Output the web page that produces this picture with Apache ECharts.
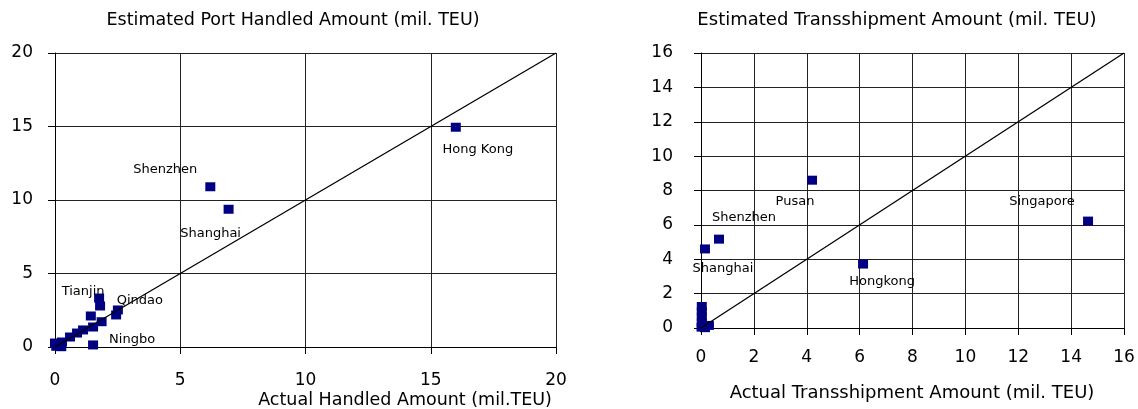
<!DOCTYPE html>
<html>
<head>
<meta charset="utf-8">
<script src="https://cdn.jsdelivr.net/npm/echarts@6/dist/echarts.min.js"></script>
<style>
html,body{margin:0;padding:0;background:#fff;}
#c{width:1138px;height:409px;}
</style>
</head>
<body>
<div id="c"></div>
<script>
// ---- Data: left chart (port handled amount, mil. TEU)
const portNames     = ['Hong Kong','Shenzhen','Shanghai','Tianjin','', 'Qindao','', 'Ningbo','', '', '', '', '', '', '', '', '', ''];
const portActual    = [16.0, 6.2, 6.93, 1.76, 1.80, 2.51, 2.44, 1.52, 1.43, 1.86, 1.52, 1.12, 0.88, 0.60, 0.28, 0.0, 0.05, 0.25];
const portEstimated = [14.95, 10.9, 9.37, 3.33, 2.79, 2.52, 2.18, 0.14, 2.11, 1.72, 1.36, 1.16, 0.95, 0.68, 0.34, 0.27, 0.05, 0.02];

// ---- Data: right chart (transshipment amount, mil. TEU)
const tsNames     = ['Singapore','Pusan','Hongkong','Shenzhen','Shanghai', '', '', '', '', '', '', ''];
const tsActual    = [14.64, 4.2, 6.13, 0.68, 0.15, 0.03, 0.03, 0.03, 0.03, 0.02, 0.3, 0.15];
const tsEstimated = [6.22, 8.6, 3.72, 5.17, 4.6, 1.25, 0.95, 0.65, 0.35, 0.05, 0.15, 0.02];

// ---- Axis ticks
const portTicks = [0, 5, 10, 15, 20];
const tsTicks   = [0, 2, 4, 6, 8, 10, 12, 14, 16];

// ---- Label placement (style only)
const labelOffsets = {
  'Hong Kong': [22, 22], 'Shenzhen#0': [-45, -17], 'Shanghai#0': [-18, 24],
  'Tianjin': [-16, -6], 'Qindao': [22, -9], 'Ningbo': [39, -5],
  'Singapore': [-46, -19], 'Pusan': [-17, 21], 'Hongkong': [19, 18],
  'Shenzhen#1': [25, -22], 'Shanghai#1': [18, 20]
};

const FONT = 'DejaVu Sans';
const NAVY = '#000080';

function points(names, xs, ys, chartIdx) {
  return xs.map((x, i) => {
    const n = names[i];
    const item = { value: [x, ys[i]] };
    if (n) {
      const off = labelOffsets[n] || labelOffsets[n + '#' + chartIdx] || [0, 0];
      item.label = { show: true, formatter: n, position: 'inside', offset: off,
        color: '#000', fontFamily: FONT, fontSize: 13 };
    }
    return item;
  });
}

function axisCfg(gi, ticks, margin) {
  return {
    gridIndex: gi, type: 'value', min: ticks[0], max: ticks[ticks.length - 1],
    interval: ticks[1] - ticks[0],
    axisLine: { show: true, onZero: false, lineStyle: { color: '#000', width: 1 } },
    axisTick: { show: true, length: 7, lineStyle: { color: '#000' } },
    axisLabel: { margin: margin, color: '#000', fontFamily: FONT, fontSize: 17 },
    splitLine: { show: true, lineStyle: { color: '#222', width: 1 } }
  };
}

const chart = echarts.init(document.getElementById('c'), null, { renderer: 'canvas' });
const textEl = (t, x, y, size) => ({ type: 'text', x: x, y: y, silent: true,
  style: { text: t, align: 'center', verticalAlign: 'middle', font: size + 'px ' + FONT, fill: '#000' } });
chart.setOption({
  animation: false,
  backgroundColor: '#fff',
  grid: [
    { left: 55, top: 53, width: 501, height: 294 },
    { left: 701, top: 53, width: 423, height: 275 }
  ],
  xAxis: [axisCfg(0, portTicks, 25), axisCfg(1, tsTicks, 21)],
  yAxis: [axisCfg(0, portTicks, 22), axisCfg(1, tsTicks, 28)],
  graphic: [
    textEl('Estimated Port Handled Amount (mil. TEU)', 293, 20, 17.5),
    textEl('Estimated Transshipment Amount (mil. TEU)', 897, 20, 18),
    textEl('Actual Handled Amount (mil.TEU)', 405, 400, 17.5),
    textEl('Actual Transshipment Amount (mil. TEU)', 912, 393, 18)
  ],
  series: [
    { type: 'scatter', xAxisIndex: 0, yAxisIndex: 0, symbol: 'rect', symbolSize: [10, 9],
      itemStyle: { color: NAVY, opacity: 1 }, data: points(portNames, portActual, portEstimated, 0), z: 2 },
    { type: 'line', xAxisIndex: 0, yAxisIndex: 0, showSymbol: false, symbol: 'none',
      lineStyle: { color: '#000', width: 1.3 }, data: [[portTicks[0], portTicks[0]], [portTicks[portTicks.length-1], portTicks[portTicks.length-1]]], z: 3, silent: true },
    { type: 'scatter', xAxisIndex: 1, yAxisIndex: 1, symbol: 'rect', symbolSize: [10, 9],
      itemStyle: { color: NAVY, opacity: 1 }, data: points(tsNames, tsActual, tsEstimated, 1), z: 2 },
    { type: 'line', xAxisIndex: 1, yAxisIndex: 1, showSymbol: false, symbol: 'none',
      lineStyle: { color: '#000', width: 1.3 }, data: [[tsTicks[0], tsTicks[0]], [tsTicks[tsTicks.length-1], tsTicks[tsTicks.length-1]]], z: 3, silent: true }
  ]
});
</script>
</body>
</html>
